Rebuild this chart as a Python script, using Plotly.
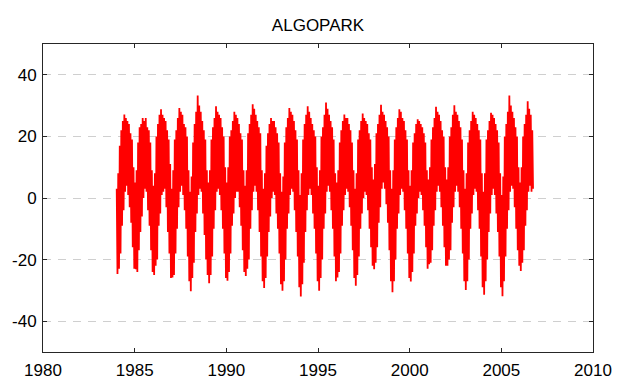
import plotly.graph_objects as go

# Monthly upper / lower envelope of the daily series (degrees)
# one row per year, January..December (2006 ends in September)
monthly_high = [
    3, 8, 17, 22, 25, 27.1, 26, 25, 24, 21, 19, 10,         # 1984
    5, 9, 18, 23, 24, 26, 25, 26, 23, 22, 18, 9,            # 1985
    4, 8, 20, 24, 27, 28.8, 27, 26, 25, 22, 19, 11,         # 1986
    3, 9, 19, 22, 26, 29.2, 28, 27, 24, 23, 20, 9,          # 1987
    2, 7, 18, 24, 28, 33.3, 30, 28, 25, 22, 19, 9,          # 1988
    5, 9, 19, 23, 26, 29.8, 28, 27, 26, 23, 20, 10,         # 1989
    5, 10, 20, 22, 25, 28, 27, 26, 24, 21, 19, 9,           # 1990
    4, 9, 21, 24, 27, 30.4, 29, 27, 25, 23, 21, 9,          # 1991
    3, 8, 17, 21, 24, 26, 25, 25, 23, 21, 18, 8,            # 1992
    2, 7, 18, 23, 26, 29.2, 28, 27, 25, 22, 19, 9,          # 1993
    1, 8, 19, 24, 27, 29.8, 28, 26, 24, 22, 20, 10,         # 1994
    4, 9, 20, 23, 27, 31, 29, 27, 25, 23, 19, 8,            # 1995
    5, 9, 18, 22, 25, 27.1, 26, 26, 24, 22, 18, 9,          # 1996
    3, 8, 19, 22, 25, 27.4, 26, 25, 24, 21, 19, 10,         # 1997
    6, 11, 21, 24, 27, 30.3, 28, 27, 25, 23, 20, 9,         # 1998
    3, 9, 19, 23, 26, 28.8, 28, 26, 25, 22, 19, 9,          # 1999
    4, 9, 18, 21, 24, 25.6, 25, 24, 23, 21, 18, 9,          # 2000
    6, 10, 19, 23, 26, 29.6, 28, 27, 25, 22, 20, 10,        # 2001
    6, 10, 20, 23, 27, 30.1, 28, 27, 25, 23, 19, 9,         # 2002
    3, 8, 18, 22, 25, 28, 27, 26, 24, 22, 19, 8,            # 2003
    2, 8, 19, 22, 25, 27.7, 27, 26, 24, 22, 18, 8,          # 2004
    1, 7, 20, 24, 28, 33.3, 30, 28, 26, 23, 20, 10,         # 2005
    5, 10, 20, 24, 27, 31.4, 29, 27, 22,                    # 2006
]
monthly_low = [
    -24.7, -23, -18, -9, -4, 2, 4, 1, -3, -8, -16, -23,     # 1984
    -23.1, -24, -17, -11, -6, 0, 3, 2, -4, -9, -17, -24,    # 1985
    -25, -22, -20, -9, -5, 1, 2, 3, -3, -11, -18, -26,      # 1986
    -25.8, -25, -18, -10, -3, 2, 4, 1, -4, -10, -19, -27,   # 1987
    -30.3, -26, -21, -11, -5, 1, 3, 2, -5, -12, -20, -25,   # 1988
    -27.7, -25, -19, -10, -4, 2, 3, 1, -4, -10, -18, -26,   # 1989
    -26.9, -24, -18, -9, -5, 0, 2, 2, -3, -9, -17, -24,     # 1990
    -25.3, -23, -20, -10, -4, 2, 4, 2, -4, -11, -19, -27,   # 1991
    -29.2, -26, -19, -11, -6, 0, 2, 1, -5, -10, -18, -28,   # 1992
    -30.1, -27, -20, -10, -5, 1, 3, 2, -4, -11, -19, -29,   # 1993
    -32, -28, -21, -11, -4, 1, 3, 1, -5, -10, -18, -27,     # 1994
    -30.1, -26, -20, -10, -5, 2, 4, 2, -4, -10, -19, -27,   # 1995
    -25.8, -24, -18, -9, -4, 1, 3, 2, -3, -9, -17, -26,     # 1996
    -28.5, -25, -19, -10, -5, 0, 2, 1, -4, -10, -16, -22,   # 1997
    -23.1, -21, -16, -8, -3, 3, 5, 3, -2, -8, -17, -27,     # 1998
    -30.6, -27, -20, -10, -5, 1, 3, 2, -4, -10, -18, -26,   # 1999
    -27.1, -24, -18, -9, -5, 0, 2, 1, -4, -9, -16, -23,     # 2000
    -21.5, -21, -17, -9, -4, 2, 4, 2, -3, -9, -16, -22,     # 2001
    -22, -20, -17, -8, -3, 2, 4, 2, -3, -10, -18, -27,      # 2002
    -29.9, -27, -20, -10, -5, 1, 3, 2, -4, -10, -19, -29,   # 2003
    -31.4, -27, -20, -11, -5, 1, 3, 1, -5, -11, -19, -29,   # 2004
    -31.9, -27, -19, -10, -4, 2, 4, 3, -3, -10, -17, -22,   # 2005
    -23.7, -21, -17, -9, -4, 2, 4, 2, 3,                    # 2006
]
start_year = 1984
x_ticks = [1980, 1985, 1990, 1995, 2000, 2005, 2010]
y_ticks = [-40, -20, 0, 20, 40]
y_tick_text = ["-40", "-20", "0", "20", "40"]
title = "ALGOPARK"

# time axis in decimal years: the monthly high early in the month, the low later
t, v = [], []
for i, (h, l) in enumerate(zip(monthly_high, monthly_low)):
    t.append(start_year + (i + 0.25) / 12.0)
    v.append(h)
    t.append(start_year + (i + 0.75) / 12.0)
    v.append(l)

font = "Liberation Sans, Arial, Helvetica, sans-serif"
fig = go.Figure(go.Scatter(x=t, y=v, mode="lines",
                           line=dict(color="#ff0000", width=1.8),
                           showlegend=False, hoverinfo="skip"))

axis_common = dict(showline=True, linecolor="#262626", linewidth=1,
                   mirror="ticks", ticks="inside", ticklen=4,
                   tickcolor="#262626", zeroline=False, automargin=False,
                   tickfont=dict(family=font, size=17, color="#000000"))

fig.update_layout(
    width=619, height=381,
    margin=dict(l=43, r=26, t=44, b=29),
    paper_bgcolor="white", plot_bgcolor="white",
    title=dict(text=title, x=0.5, xref="paper", y=1 - 25 / 381, yref="container",
               yanchor="middle", xanchor="center",
               font=dict(family=font, size=17, color="#000000")),
    xaxis=dict(range=[1980, 2010], tickvals=x_ticks, showgrid=False,
               ticklabelstandoff=3, **axis_common),
    yaxis=dict(range=[-50, 50], tickvals=y_ticks, ticktext=y_tick_text, showgrid=True,
               gridcolor="#cfcfcf", gridwidth=1, griddash="8px,7px",
               ticklabelstandoff=2, **axis_common),
)

fig.write_html("out.html")
